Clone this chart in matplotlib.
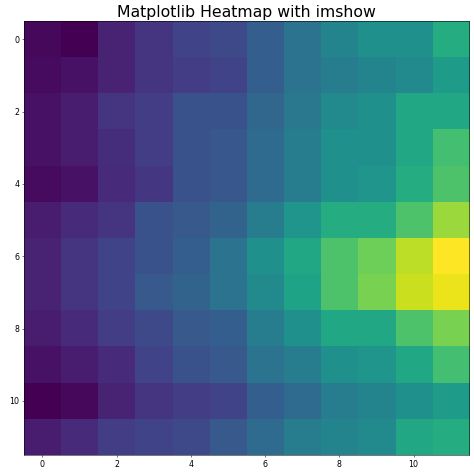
import matplotlib
matplotlib.use("Agg")
import matplotlib.pyplot as plt
import numpy as np

values = [
    [0.02, 0.00, 0.10, 0.15, 0.20, 0.22, 0.30, 0.38, 0.45, 0.50, 0.50, 0.62],
    [0.03, 0.05, 0.10, 0.15, 0.18, 0.20, 0.30, 0.38, 0.42, 0.45, 0.48, 0.55],
    [0.05, 0.08, 0.15, 0.18, 0.25, 0.25, 0.33, 0.40, 0.48, 0.50, 0.60, 0.60],
    [0.05, 0.08, 0.13, 0.18, 0.25, 0.27, 0.35, 0.42, 0.50, 0.50, 0.60, 0.70],
    [0.03, 0.05, 0.12, 0.16, 0.25, 0.27, 0.35, 0.42, 0.50, 0.52, 0.62, 0.72],
    [0.08, 0.12, 0.15, 0.25, 0.28, 0.32, 0.42, 0.52, 0.62, 0.62, 0.72, 0.85],
    [0.10, 0.15, 0.20, 0.25, 0.30, 0.38, 0.50, 0.60, 0.72, 0.78, 0.90, 1.00],
    [0.10, 0.15, 0.20, 0.28, 0.32, 0.38, 0.48, 0.58, 0.72, 0.80, 0.92, 0.97],
    [0.08, 0.12, 0.18, 0.22, 0.28, 0.30, 0.42, 0.50, 0.60, 0.60, 0.72, 0.80],
    [0.05, 0.08, 0.12, 0.20, 0.25, 0.28, 0.38, 0.42, 0.50, 0.52, 0.60, 0.70],
    [0.00, 0.02, 0.10, 0.15, 0.18, 0.20, 0.30, 0.35, 0.42, 0.45, 0.50, 0.55],
    [0.08, 0.12, 0.18, 0.20, 0.22, 0.28, 0.35, 0.42, 0.45, 0.48, 0.60, 0.62],
]

fig, ax = plt.subplots(figsize=(10, 10), dpi=47.4)
ax.imshow(np.array(values), cmap="viridis", aspect="auto", interpolation="nearest")
ax.set_title("Matplotlib Heatmap with imshow", fontsize=24)
ax.tick_params(labelsize=12)
fig.subplots_adjust(left=0.05, right=0.99, bottom=0.04, top=0.955)
fig.savefig("out.png", dpi=47.4)
